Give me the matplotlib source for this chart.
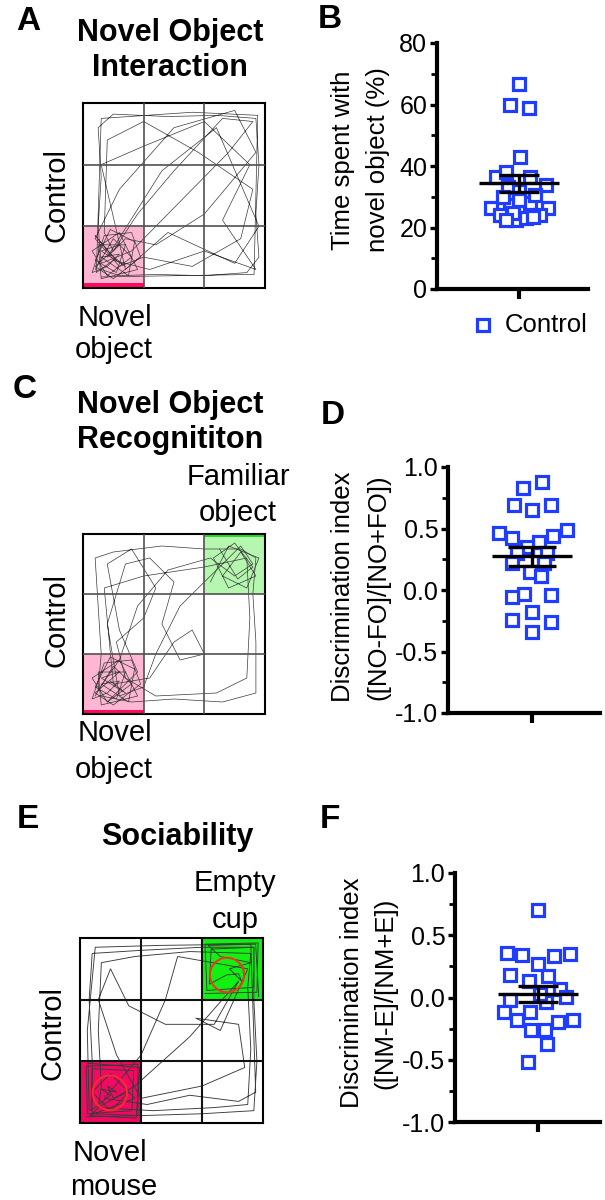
import matplotlib
matplotlib.use("Agg")
import matplotlib.pyplot as plt
from matplotlib.patches import Rectangle, Circle

plt.rcParams['font.family'] = ['Liberation Sans', 'DejaVu Sans']

# ---------------- data ----------------
# Panel B: time spent with novel object (%), x offset in px within the swarm
B_vals = [66.8, 59.8, 59.0, 43.0, 36.5, 38.0, 36.5, 33.8, 33.3, 32.0, 26.3, 26.3,
          27.4, 28.0, 24.0, 24.0, 22.5, 23.0, 30.0, 30.6, 24.6, 29.0, 23.5, 22.5]
B_xoff = [0, -9, 10, 1, -23, -13, 11, 27, -11, 0, -28, 29,
          -9, 11, -19, 21, -3, 7, -16, 16, -6, 0, 14, -13]
B_mean, B_sem = 34.4, 2.8

# Panel D: discrimination index NOR
D_vals = [0.88, 0.83, 0.69, 0.65, 0.69, 0.46, 0.42, 0.49, 0.44, 0.39, 0.35, 0.30,
          0.30, 0.22, 0.22, 0.15, 0.11, -0.03, -0.06, -0.04, -0.18, -0.24, -0.26, -0.34]
D_xoff = [10, -9, -18, 0, 19, -33, -20, 35, 21, 7, -5, 15,
          -15, -20, 12, -2, 9, -8, -20, 19, 0, -20, 19, 0]
D_mean, D_sem = 0.275, 0.077

# Panel F: discrimination index sociability
F_vals = [0.70, 0.355, 0.34, 0.33, 0.35, 0.27, 0.18, 0.17, 0.13, 0.07, 0.005, -0.02,
          -0.035, 0.03, -0.115, -0.115, -0.18, -0.20, -0.18, -0.26, -0.26, -0.37, -0.52]
F_xoff = [0, -31, -16, 16, 32, 0, -28, 10, -9, 22, 28, -28,
          8, 2, -34, -8, -21, 20, 35, -7, 7, 9, -10]
F_mean, F_sem = 0.03, 0.064

B_ticks = [0, 20, 40, 60, 80]
DF_ticks = [-1.0, -0.5, 0.0, 0.5, 1.0]
DF_ticklabels = ['-1.0', '-0.5', '0.0', '0.5', '1.0']

# Arena trajectories (arena units 0..3, y up)
A_path = [(0.3,0.3),(0.6,0.2),(1.2,0.22),(2.0,0.2),(2.7,0.25),(2.9,0.5),(2.85,1.2),(2.9,2.0),
          (2.85,2.75),(2.2,2.8),(1.4,2.78),(0.5,2.82),(0.25,2.6),(0.3,1.8),(0.25,1.0),(0.3,0.4),
          (0.8,0.6),(1.6,1.4),(2.4,2.2),(2.8,2.7),(2.3,2.75),(1.5,1.9),(0.9,1.2),(0.5,0.6),
          (0.35,0.9),(0.4,2.4),(1.0,2.7),(1.9,2.2),(2.8,1.6),(2.6,0.8),(1.8,0.35),(1.0,0.5),
          (0.6,0.35),(0.2,0.8),(0.6,1.6),(1.5,2.6),(2.5,2.88),(2.85,2.2),(2.0,1.2),(1.2,0.7),
          (0.7,0.8),(0.4,0.5),(1.3,1.9),(2.2,2.6),(2.9,1.0),(2.5,0.4),(1.4,0.9),(0.7,0.3),
          (0.3,2.0),(1.0,2.3),(2.0,2.7),(2.75,2.0),(2.3,1.1),(2.85,0.3),(2.0,0.6),(1.1,0.3),
          (0.5,0.45),(0.22,0.25),(0.3,2.75),(1.8,2.85),(2.88,2.8),(2.82,0.22),(0.3,0.18)]
A_corner = [(0.2,0.3),(0.5,0.8),(0.8,0.5),(0.4,0.2),(0.15,0.6),(0.6,0.9),(0.9,0.3),(0.3,0.15),
            (0.25,0.7),(0.7,0.7),(0.55,0.25),(0.2,0.45),(0.45,0.95),(0.85,0.75),(0.75,0.2),
            (0.3,0.5),(0.6,0.55),(0.4,0.35),(0.15,0.25),(0.35,0.85),(0.8,0.9),(0.95,0.5),
            (0.5,0.15),(0.2,0.35),(0.6,0.7),(0.3,0.6),(0.7,0.35),(0.45,0.55),(0.2,0.85),(0.55,0.45)]

C_path = [(0.3,0.3),(0.8,0.2),(1.5,0.25),(2.3,0.2),(2.85,0.35),(2.85,1.2),(2.8,2.0),(2.85,2.6),
          (2.6,2.75),(2.0,2.75),(1.3,2.8),(0.5,2.7),(0.2,2.6),(0.25,1.8),(0.3,1.0),(0.25,0.4),
          (0.6,0.9),(0.9,1.8),(1.4,2.4),(2.1,2.6),(2.5,2.3),(2.8,2.5),(2.6,2.8),(2.2,2.4),
          (1.6,1.8),(1.2,1.0),(1.0,0.45),(0.6,0.3),(0.4,1.5),(0.7,2.5),(1.1,2.6),(1.5,2.2),
          (1.3,1.5),(1.6,0.9),(2.0,1.0),(1.8,1.4),(1.5,1.2),(1.1,0.6),(0.5,0.5),(0.35,2.1),
          (1.0,2.3),(2.0,2.45),(2.7,2.6),(2.75,1.6),(2.7,0.6),(2.2,0.35),(1.2,0.3),(0.7,0.6),
          (0.55,1.2),(1.0,1.6),(1.2,2.1),(0.8,2.75),(0.4,2.5),(0.6,1.4),(0.9,0.7),(0.4,0.2)]
C_green = [(2.1,2.2),(2.4,2.8),(2.9,2.6),(2.7,2.1),(2.3,2.3),(2.6,2.7),(2.85,2.3),(2.4,2.1),
           (2.15,2.6),(2.5,2.85),(2.8,2.45),(2.55,2.25),(2.25,2.75)]
C_corner = [(0.2,0.3),(0.5,0.8),(0.8,0.5),(0.4,0.2),(0.15,0.6),(0.6,0.9),(0.9,0.3),(0.3,0.15),
            (0.25,0.7),(0.7,0.7),(0.55,0.25),(0.2,0.45),(0.45,0.95),(0.85,0.75),(0.75,0.2),
            (0.3,0.5),(0.6,0.55),(0.4,0.35),(0.15,0.25),(0.35,0.85),(0.8,0.9),(0.95,0.5),
            (0.5,0.15),(0.2,0.35),(0.6,0.7),(0.3,0.6),(0.7,0.35),(0.45,0.55)]

E_path = [(0.2,0.15),(1.0,0.12),(2.0,0.15),(2.85,0.2),(2.9,1.0),(2.85,2.0),(2.85,2.85),(2.0,2.85),
          (1.0,2.8),(0.2,2.75),(0.15,2.0),(0.2,1.0),(0.2,0.15),
          (0.3,0.25),(1.2,0.2),(2.2,0.25),(2.75,0.3),(2.8,1.2),(2.75,2.2),(2.8,2.75),(1.8,2.78),
          (0.9,2.7),(0.35,2.6),(0.3,1.5),(0.35,0.6),(0.3,0.25),
          (0.9,0.6),(1.8,1.4),(2.6,2.3),(2.2,1.6),(1.4,1.6),(0.8,1.9),(0.5,2.5),(0.3,2.0),
          (0.6,1.1),(1.0,0.4),(2.0,0.6),(2.7,0.9),(2.6,1.6),(1.9,1.7),(2.3,1.5),(2.75,2.5),
          (1.6,2.7),(1.4,2.0),(1.0,1.1),(0.4,0.4),(1.1,0.3),(1.8,0.45),(2.6,0.35),(2.88,0.5),
          (2.8,2.9),(1.3,2.88),(0.25,2.85),(0.12,1.5),(0.15,0.2)]
E_bl = [(0.1,0.1),(0.95,0.12),(0.95,0.95),(0.1,0.92),(0.12,0.15),(0.85,0.2),(0.88,0.85),
        (0.2,0.88),(0.18,0.2),(0.5,0.45),(0.35,0.55),(0.6,0.5),(0.45,0.6),(0.55,0.4),(0.8,0.5),
        (0.5,0.2),(0.2,0.5),(0.5,0.8),(0.9,0.4),(0.15,0.12),(0.92,0.08),(0.98,0.9),(0.12,0.97)]
E_tr = [(2.05,2.1),(2.9,2.12),(2.92,2.92),(2.05,2.9),(2.08,2.15),(2.85,2.2),(2.85,2.85),
        (2.15,2.82),(2.12,2.25),(2.4,2.4),(2.6,2.42),(2.65,2.3),(2.45,2.5),(2.8,2.6),(2.3,2.7),
        (2.1,2.88),(2.88,2.9),(2.93,2.05)]
E_cups = [(0.49, 0.49), (2.41, 2.4)]
cup_r = 0.28

# ---------------- figure ----------------
W, H = 605, 1200
fig = plt.figure(figsize=(W/100, H/100), dpi=100)

def px_axes(x0, y0, x1, y1, **kw):
    return fig.add_axes([x0/W, 1-y1/H, (x1-x0)/W, (y1-y0)/H], **kw)

BLUE = '#1f3dff'
TRACK = '#3a3a3a'

def arena(box, shade, paths, gridcol='#505050', gridlw=1.2, tracklw=0.5):
    ax = px_axes(*box)
    ax.set_xlim(0, 3); ax.set_ylim(0, 3)
    ax.set_xticks([]); ax.set_yticks([])
    for (cx, cy, col) in shade:
        ax.add_patch(Rectangle((cx, cy), 1, 1, color=col, lw=0, zorder=0))
    for p in paths:
        xs = [q[0] for q in p]; ys = [q[1] for q in p]
        ax.plot(xs, ys, color=TRACK, lw=tracklw, zorder=2)
    for v in (1, 2):
        ax.axvline(v, color=gridcol, lw=gridlw, zorder=3)
        ax.axhline(v, color=gridcol, lw=gridlw, zorder=3)
    for s in ax.spines.values():
        s.set_linewidth(1.5); s.set_color('black')
    return ax

# A
axA = arena((83, 103, 265, 288), [(0, 0, '#ffb6d2')], [A_path, A_corner])
axA.add_patch(Rectangle((0, 0), 1, 0.08, color='#ff0a60', lw=0, zorder=1))
# C
axC = arena((83, 534, 265, 714), [(0, 0, '#ffb6d2'), (2, 2, '#b6f7b0')], [C_path, C_green, C_corner])
axC.add_patch(Rectangle((0, 0), 1, 0.07, color='#ff0a60', lw=0, zorder=1))
axC.add_patch(Rectangle((2, 2.95), 1, 0.05, color='#22dd22', lw=0, zorder=1))
# E
axE = arena((80, 938, 263, 1123), [(0, 0, '#f00a62'), (2, 2, '#11f011')], [E_path, E_bl, E_tr],
            gridcol='#111111', gridlw=1.5, tracklw=0.65)
for (cx, cy) in E_cups:
    axE.add_patch(Circle((cx, cy), cup_r, fill=False, ec='#ff2a2a', lw=1.4, zorder=4))

# scatter panels
def scatter_panel(box, xlim, vals, xoff, mean, sem, ylim, ticks, ticklabels, minor, mhw, chw):
    ax = px_axes(*box)
    ax.set_xlim(*xlim); ax.set_ylim(*ylim)
    ax.plot(xoff, vals, 's', ms=8.5, mfc='white', mec=BLUE, mew=2.3, ls='none', zorder=2, clip_on=False)
    ax.hlines(mean, -mhw, mhw, color='black', lw=2.4, zorder=3)
    ax.vlines(0, mean-sem, mean+sem, color='black', lw=2.4, zorder=3)
    ax.hlines([mean-sem, mean+sem], -chw, chw, color='black', lw=2.4, zorder=3)
    for s in ('top', 'right'):
        ax.spines[s].set_visible(False)
    for s in ('left', 'bottom'):
        ax.spines[s].set_linewidth(3.0)
    ax.set_yticks(ticks)
    ax.set_yticklabels(ticklabels, fontsize=18)
    ax.set_yticks(minor, minor=True)
    ax.set_xticks([0]); ax.set_xticklabels([''])
    ax.tick_params(axis='y', which='major', length=5, width=2.4, pad=2)
    ax.tick_params(axis='y', which='minor', length=4, width=2.0)
    ax.tick_params(axis='x', length=7, width=3)
    return ax

axB = scatter_panel((437, 43, 588, 289), (-82, 69), B_vals, B_xoff, B_mean, B_sem,
                    (0, 80), B_ticks, [str(t) for t in B_ticks], [10, 30, 50, 70], 40, 20)
axD = scatter_panel((448, 467, 600, 713), (-84, 68), D_vals, D_xoff, D_mean, D_sem,
                    (-1, 1), DF_ticks, DF_ticklabels, [-0.75, -0.25, 0.25, 0.75], 40, 24)
axF = scatter_panel((455, 873, 600, 1122), (-83, 62), F_vals, F_xoff, F_mean, F_sem,
                    (-1, 1), DF_ticks, DF_ticklabels, [-0.75, -0.25, 0.25, 0.75], 40, 20)

# overlay for text
ov = fig.add_axes([0, 0, 1, 1], zorder=10)
ov.set_xlim(0, W); ov.set_ylim(H, 0); ov.axis('off')
ov.patch.set_alpha(0)

def T(x, y, s, size=21, weight='normal', ha='center', va='center', rot=0):
    ov.text(x, y, s, fontsize=size, fontweight=weight, ha=ha, va=va, rotation=rot)

# panel letters
for (x, y, s) in [(28, 22, 'A'), (330, 20, 'B'), (25, 390, 'C'), (333, 415, 'D'),
                  (28, 820, 'E'), (330, 820, 'F')]:
    T(x, y, s, size=24, weight='bold')

# titles
T(170, 33, 'Novel Object', size=22, weight='bold')
T(170, 68, 'Interaction', size=22, weight='bold')
T(170, 405, 'Novel Object', size=22, weight='bold')
T(170, 440, 'Recognititon', size=22, weight='bold')
T(177, 837, 'Sociability', size=22, weight='bold')

# arena labels
T(57, 195, 'Control', rot=90)
T(78, 318, 'Novel', ha='left')
T(75, 350, 'object', ha='left')
T(238, 477, 'Familiar')
T(238, 513, 'object')
T(57, 620, 'Control', rot=90)
T(78, 733, 'Novel', ha='left')
T(75, 770, 'object', ha='left')
T(235, 883, 'Empty')
T(235, 920, 'cup')
T(52, 1033, 'Control', rot=90)
T(73, 1153, 'Novel', ha='left')
T(70, 1187, 'mouse', ha='left')

# y labels
T(343, 160, 'Time spent with', size=18.5, rot=90)
T(378, 160, 'novel object (%)', size=18.5, rot=90)
T(343, 587, 'Discrimination index', size=18.5, rot=90)
T(378, 587, '([NO-FO]/[NO+FO])', size=18.5, rot=90)
T(352, 993, 'Discrimination index', size=18.5, rot=90)
T(385, 993, '([NM-E]/[NM+E])', size=18.5, rot=90)

# legend in B
ov.plot([483], [325], 's', ms=8.5, mfc='white', mec=BLUE, mew=2.3)
T(505, 325, 'Control', size=18.5, ha='left')

fig.savefig('out.png', dpi=100)
